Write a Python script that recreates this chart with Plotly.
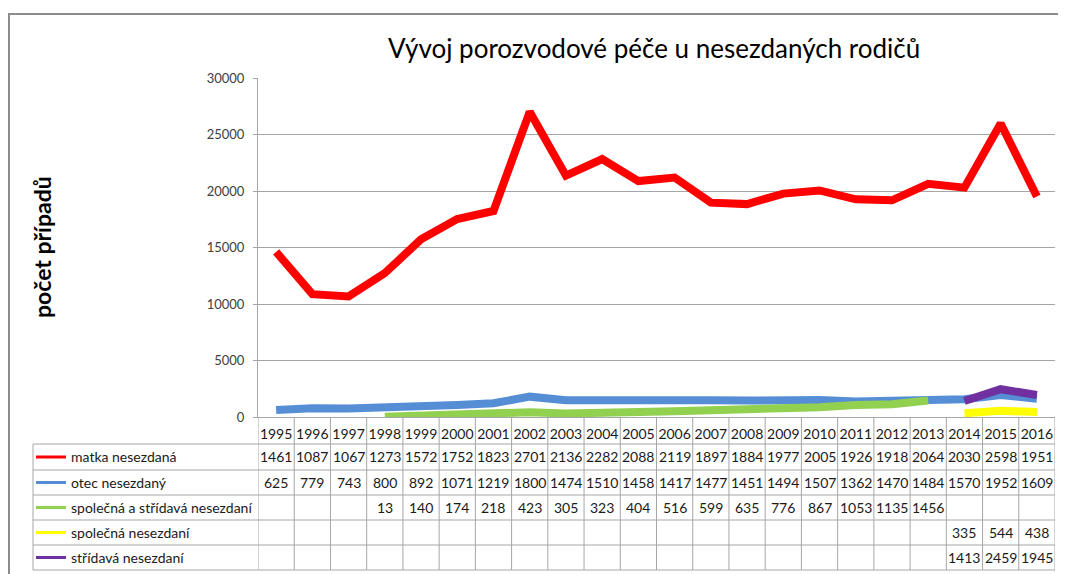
import plotly.graph_objects as go

years = list(range(1995, 2017))
matka = [14610, 10870, 10670, 12730, 15720, 17520, 18230, 27010, 21360, 22820, 20880,
         21190, 18970, 18840, 19770, 20050, 19260, 19180, 20640, 20300, 25980, 19510]
otec = [625, 779, 743, 800, 892, 1071, 1219, 1800, 1474, 1510, 1458,
        1417, 1477, 1451, 1494, 1507, 1362, 1470, 1484, 1570, 1952, 1609]
spol_strid = [None, None, None, 13, 140, 174, 218, 423, 305, 323, 404,
              516, 599, 635, 776, 867, 1053, 1135, 1456, None, None, None]
spolecna = [None] * 19 + [335, 544, 438]
stridava = [None] * 19 + [1413, 2459, 1945]

series = [
    ("matka nesezdaná", matka, "#FF0000"),
    ("otec nesezdaný", otec, "#558ED5"),
    ("společná a střídavá nesezdaní", spol_strid, "#92D050"),
    ("společná nesezdaní", spolecna, "#FFFF00"),
    ("střídavá nesezdaní", stridava, "#7030A0"),
]
title = "Vývoj porozvodové péče u nesezdaných rodičů"
ytitle = "počet případů"

OFF = 8  # page body margin
W, H = 1066, 574
L, R, T, B = 258 - OFF, 1055 - OFF, 78 - OFF, 417 - OFF
FONT = "Lato, Open Sans, sans-serif"


def px(x):
    return (x - OFF - L) / (R - L)


def py(y):
    return (B - (y - OFF)) / (B - T)


fig = go.Figure()
for name, vals, col in series:
    fig.add_trace(go.Scatter(x=years, y=vals, mode="lines", name=name,
                             line=dict(color=col, width=8), connectgaps=False,
                             showlegend=False))

shapes = []
annotations = []
grid = "#A6A6A6"

# outer chart border
shapes.append(dict(type="rect", xref="paper", yref="paper", x0=px(9), x1=px(1090),
                   y0=py(14), y1=py(600), line=dict(color="#8C8C8C", width=2), layer="below"))

# table
row_tops = [444, 470, 495, 520, 545, 570]
for yy in row_tops:
    shapes.append(dict(type="line", xref="paper", yref="paper", x0=px(33), x1=px(1055),
                       y0=py(yy), y1=py(yy), line=dict(color=grid, width=1)))
shapes.append(dict(type="line", xref="paper", yref="paper", x0=px(33), x1=px(33),
                   y0=py(444), y1=py(570), line=dict(color=grid, width=1)))
for k in range(len(years) + 1):
    xv = years[0] - 0.5 + k
    shapes.append(dict(type="line", xref="x", yref="paper", x0=xv, x1=xv,
                       y0=py(417), y1=py(570), line=dict(color=grid, width=1)))

for i, (name, vals, col) in enumerate(series):
    yc = (row_tops[i] + row_tops[i + 1]) / 2
    shapes.append(dict(type="line", xref="paper", yref="paper", x0=px(36), x1=px(66),
                       y0=py(yc), y1=py(yc), line=dict(color=col, width=3)))
    annotations.append(dict(text=name, xref="paper", yref="paper", x=px(69), y=py(yc),
                            xanchor="left", yanchor="middle", showarrow=False,
                            font=dict(family=FONT, size=14, color="#1a1a1a")))
    for yr, v in zip(years, vals):
        if v is None:
            continue
        annotations.append(dict(text=str(v)[:4], xref="x", yref="paper", x=yr, y=py(yc),
                                xanchor="center", yanchor="middle", showarrow=False,
                                font=dict(family=FONT, size=14, color="#1a1a1a")))

annotations.append(dict(text=title, xref="paper", yref="paper", x=px(654), y=py(48),
                        xanchor="center", yanchor="middle", showarrow=False,
                        font=dict(family=FONT, size=26, color="#000000")))
annotations.append(dict(text="<b>" + ytitle + "</b>", xref="paper", yref="paper",
                        x=px(42), y=py(247), xanchor="center", yanchor="middle",
                        showarrow=False, textangle=-90,
                        font=dict(family=FONT, size=23, color="#000000")))

fig.update_layout(
    width=W, height=H,
    margin=dict(l=L, r=W - R, t=T, b=H - B),
    paper_bgcolor="white", plot_bgcolor="white",
    shapes=shapes, annotations=annotations,
    xaxis=dict(range=[1994.5, 2016.5], tickvals=years, ticktext=[str(y) for y in years],
               showgrid=False, zeroline=False, showline=True, linecolor=grid, linewidth=1,
               ticks="", tickfont=dict(family=FONT, size=14, color="#1a1a1a"),
               ticklabelstandoff=4),
    yaxis=dict(range=[0, 30000], tickvals=[0, 5000, 10000, 15000, 20000, 25000, 30000],
               tickformat="d",
               showgrid=True, gridcolor=grid, gridwidth=1, zeroline=False,
               showline=True, linecolor=grid, linewidth=1, ticks="outside", ticklen=4,
               tickcolor=grid, tickfont=dict(family=FONT, size=13, color="#404040"),
               ticklabelstandoff=6),
    font=dict(family=FONT),
)

fig.write_html("out.html")
